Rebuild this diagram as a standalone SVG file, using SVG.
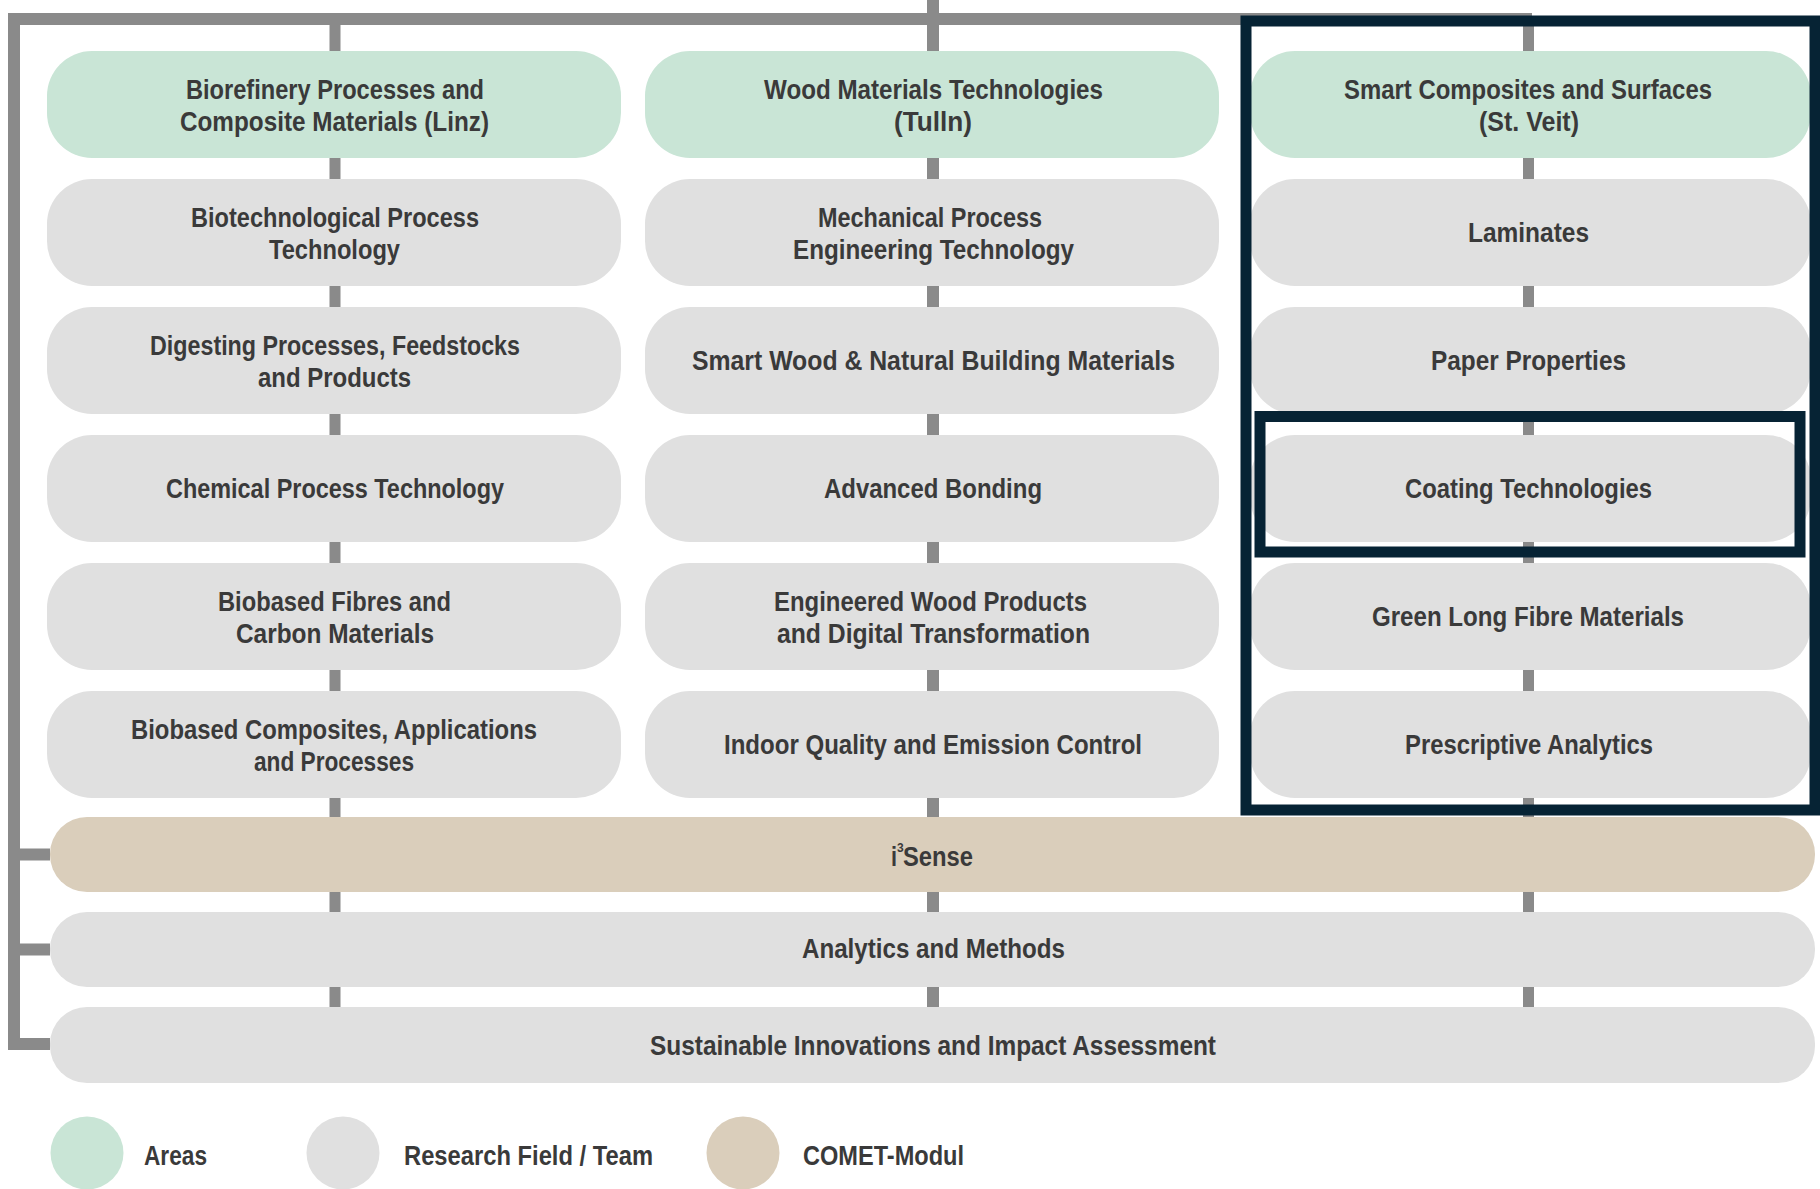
<svg xmlns="http://www.w3.org/2000/svg" width="1820" height="1189" viewBox="0 0 1820 1189">
<style>
.area{fill:#c9e5d6}
.field{fill:#e0e0e0}
.comet{fill:#dacebb}
.t{font-family:"Liberation Sans","Open Sans",sans-serif;font-weight:700;font-size:28px;fill:#3a3a3a;text-anchor:start}
.c{stroke:#8a8a8a;fill:none}
.hl{fill:none;stroke:#062334;stroke-width:11}
</style>
<rect width="1820" height="1189" fill="#ffffff"/>
<g id="connectors">
<path class="c" stroke-width="12" d="M1532,19 H14 V1044 H50 M14,854.5 H50 M14,949.5 H50"/>
<line class="c" stroke-width="11" x1="335" y1="19" x2="335" y2="1008"/>
<line class="c" stroke-width="12" x1="933" y1="0" x2="933" y2="1008"/>
<line class="c" stroke-width="11" x1="1528.5" y1="19" x2="1528.5" y2="1008"/>
</g>
<g id="n-biorefinery"><rect class="area" x="47" y="51" width="574" height="107" rx="45"/><text class="t" x="186" y="99" textLength="298" lengthAdjust="spacingAndGlyphs">Biorefinery Processes and</text><text class="t" x="180" y="131" textLength="309" lengthAdjust="spacingAndGlyphs">Composite Materials (Linz)</text></g>
<g id="n-biotech"><rect class="field" x="47" y="179" width="574" height="107" rx="45"/><text class="t" x="191" y="227" textLength="288" lengthAdjust="spacingAndGlyphs">Biotechnological Process</text><text class="t" x="269" y="259" textLength="131" lengthAdjust="spacingAndGlyphs">Technology</text></g>
<g id="n-digesting"><rect class="field" x="47" y="307" width="574" height="107" rx="45"/><text class="t" x="150" y="355" textLength="370" lengthAdjust="spacingAndGlyphs">Digesting Processes, Feedstocks</text><text class="t" x="258" y="387" textLength="153" lengthAdjust="spacingAndGlyphs">and Products</text></g>
<g id="n-chemical"><rect class="field" x="47" y="435" width="574" height="107" rx="45"/><text class="t" x="166" y="498" textLength="338" lengthAdjust="spacingAndGlyphs">Chemical Process Technology</text></g>
<g id="n-fibres"><rect class="field" x="47" y="563" width="574" height="107" rx="45"/><text class="t" x="218" y="611" textLength="233" lengthAdjust="spacingAndGlyphs">Biobased Fibres and</text><text class="t" x="236" y="643" textLength="198" lengthAdjust="spacingAndGlyphs">Carbon Materials</text></g>
<g id="n-composites"><rect class="field" x="47" y="691" width="574" height="107" rx="45"/><text class="t" x="131" y="739" textLength="406" lengthAdjust="spacingAndGlyphs">Biobased Composites, Applications</text><text class="t" x="254" y="771" textLength="160" lengthAdjust="spacingAndGlyphs">and Processes</text></g>
<g id="n-wood"><rect class="area" x="645" y="51" width="574" height="107" rx="45"/><text class="t" x="764" y="99" textLength="339" lengthAdjust="spacingAndGlyphs">Wood Materials Technologies</text><text class="t" x="894" y="131" textLength="78" lengthAdjust="spacingAndGlyphs">(Tulln)</text></g>
<g id="n-mechanical"><rect class="field" x="645" y="179" width="574" height="107" rx="45"/><text class="t" x="818" y="227" textLength="224" lengthAdjust="spacingAndGlyphs">Mechanical Process</text><text class="t" x="793" y="259" textLength="281" lengthAdjust="spacingAndGlyphs">Engineering Technology</text></g>
<g id="n-smartwood"><rect class="field" x="645" y="307" width="574" height="107" rx="45"/><text class="t" x="692" y="370" textLength="483" lengthAdjust="spacingAndGlyphs">Smart Wood &amp; Natural Building Materials</text></g>
<g id="n-bonding"><rect class="field" x="645" y="435" width="574" height="107" rx="45"/><text class="t" x="824" y="498" textLength="218" lengthAdjust="spacingAndGlyphs">Advanced Bonding</text></g>
<g id="n-engineered"><rect class="field" x="645" y="563" width="574" height="107" rx="45"/><text class="t" x="774" y="611" textLength="313" lengthAdjust="spacingAndGlyphs">Engineered Wood Products</text><text class="t" x="777" y="643" textLength="313" lengthAdjust="spacingAndGlyphs">and Digital Transformation</text></g>
<g id="n-indoor"><rect class="field" x="645" y="691" width="574" height="107" rx="45"/><text class="t" x="724" y="754" textLength="418" lengthAdjust="spacingAndGlyphs">Indoor Quality and Emission Control</text></g>
<g id="n-smartcomp"><rect class="area" x="1250" y="51" width="561" height="107" rx="45"/><text class="t" x="1344" y="99" textLength="368" lengthAdjust="spacingAndGlyphs">Smart Composites and Surfaces</text><text class="t" x="1479" y="131" textLength="100" lengthAdjust="spacingAndGlyphs">(St. Veit)</text></g>
<g id="n-laminates"><rect class="field" x="1250" y="179" width="561" height="107" rx="45"/><text class="t" x="1468" y="242" textLength="121" lengthAdjust="spacingAndGlyphs">Laminates</text></g>
<g id="n-paper"><rect class="field" x="1250" y="307" width="561" height="107" rx="45"/><text class="t" x="1431" y="370" textLength="195" lengthAdjust="spacingAndGlyphs">Paper Properties</text></g>
<g id="n-coating"><rect class="field" x="1250" y="435" width="561" height="107" rx="45"/><text class="t" x="1405" y="498" textLength="247" lengthAdjust="spacingAndGlyphs">Coating Technologies</text></g>
<g id="n-green"><rect class="field" x="1250" y="563" width="561" height="107" rx="45"/><text class="t" x="1372" y="626" textLength="312" lengthAdjust="spacingAndGlyphs">Green Long Fibre Materials</text></g>
<g id="n-prescriptive"><rect class="field" x="1250" y="691" width="561" height="107" rx="45"/><text class="t" x="1405" y="754" textLength="248" lengthAdjust="spacingAndGlyphs">Prescriptive Analytics</text></g>
<g id="n-i3sense"><rect class="comet" x="50" y="817" width="1765" height="75" rx="37"/><text class="t" x="891" y="866" textLength="6" lengthAdjust="spacingAndGlyphs">i</text><text class="t" x="897" y="852" style="font-size:12px">3</text><text class="t" x="903" y="866" textLength="70" lengthAdjust="spacingAndGlyphs">Sense</text></g>
<g id="n-analytics"><rect class="field" x="50" y="912" width="1765" height="75" rx="37"/><text class="t" x="802" y="958" textLength="263" lengthAdjust="spacingAndGlyphs">Analytics and Methods</text></g>
<g id="n-sustainable"><rect class="field" x="50" y="1007" width="1765" height="76" rx="37"/><text class="t" x="650" y="1055" textLength="566" lengthAdjust="spacingAndGlyphs">Sustainable Innovations and Impact Assessment</text></g>
<g id="highlight">
<rect class="hl" x="1246" y="21" width="569" height="789"/>
<rect class="hl" x="1260" y="416.5" width="540" height="135.5"/>
</g>
<g id="legend">
<circle class="area" cx="87" cy="1153" r="36.5"/><text class="t" x="144" y="1165" textLength="63" lengthAdjust="spacingAndGlyphs">Areas</text>
<circle class="field" cx="343" cy="1153" r="36.5"/><text class="t" x="404" y="1165" textLength="249" lengthAdjust="spacingAndGlyphs">Research Field / Team</text>
<circle class="comet" cx="743" cy="1153" r="36.5"/><text class="t" x="803" y="1165" textLength="161" lengthAdjust="spacingAndGlyphs">COMET-Modul</text>
</g>
</svg>
